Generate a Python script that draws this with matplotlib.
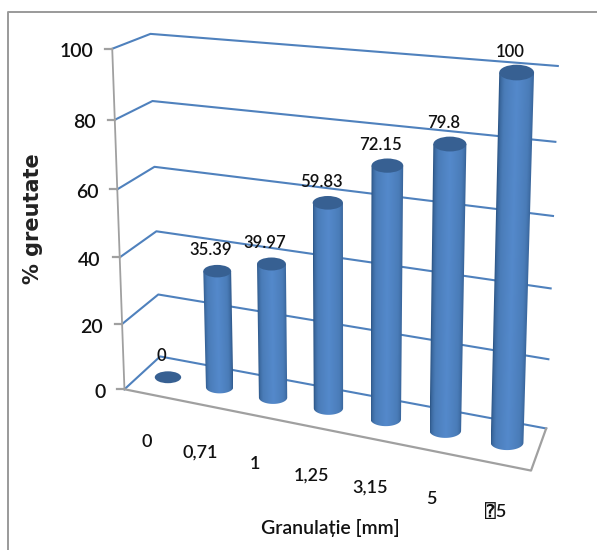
import matplotlib
matplotlib.use("Agg")
import matplotlib.pyplot as plt
import numpy as np
from matplotlib.colors import LinearSegmentedColormap
from matplotlib.patches import Ellipse, Polygon

categories = ["0", "0,71", "1", "1,25", "3,15", "5", "\u23705"]
values = [0, 35.39, 39.97, 59.83, 72.15, 79.8, 100]
value_labels = ["0", "35.39", "39.97", "59.83", "72.15", "79.8", "100"]
y_ticks = [0, 20, 40, 60, 80, 100]

FONT = ["Lato", "DejaVu Sans", "DejaVu Sans Mono"]
GRID = "#4f81bd"
AXIS = "#a0a0a0"
CAP = "#376092"
bar_cmap = LinearSegmentedColormap.from_list("bar", ["#2b5484", "#4a7cb8", "#5489cb", "#4a7cb8", "#2d5688"])

# chart box corners as seen in the picture: (along, depth, height) -> pixel
anchors = [
    (0, 0, 0, 124, 389), (0, 1, 0, 161, 357), (1, 1, 0, 546, 428), (1, 0, 0, 531, 471),
    (0, 0, 100, 113, 49), (0, 1, 100, 150, 34), (1, 1, 100, 558, 66),
    (0, 0, 60, 117, 189), (0, 1, 60, 154, 166.5), (1, 1, 60, 553, 216),
]
rows = []
for u, d, v, px, py in anchors:
    rows.append([u, d, v, 1, 0, 0, 0, 0, -px * u, -px * d, -px * v, -px])
    rows.append([0, 0, 0, 0, u, d, v, 1, -py * u, -py * d, -py * v, -py])
cam = np.linalg.svd(np.array(rows, dtype=float))[2][-1].reshape(3, 4)


def proj(u, d, v):
    p = cam @ np.array([u, d, v, 1.0])
    return p[0] / p[2], p[1] / p[2]


fig = plt.figure(figsize=(5.97, 5.5), dpi=100)
ax = fig.add_axes([0, 0, 1, 1])
ax.axis("off")

# outer frame, only top and left are inside the picture
ax.plot([8, 8, 597], [550, 12, 12], color="#9a9a9a", lw=1.4)

# walls and floor
for v in y_ticks:
    pts = [proj(0, 0, v), proj(0, 1, v), proj(1, 1, v)]
    ax.plot(*zip(*pts), color=GRID, lw=1.5, zorder=1)
    x0, y0 = pts[0]
    ax.plot([x0 - 7, x0], [y0, y0], color=AXIS, lw=1.6, zorder=2)
    ax.text(x0 - 19, y0 + 3, str(v), ha="right", va="center", fontsize=14, family=FONT,
            fontweight="semibold", color="#111111")
ax.plot(*zip(proj(0, 0, 0), proj(0, 0, 100)), color=AXIS, lw=1.3, zorder=2)
ax.plot(*zip(proj(0, 0, 0), proj(1, 0, 0), proj(1, 1, 0)), color=AXIS, lw=1.6, zorder=2)

# cylinders
n = len(categories)
ratio = 0.45
for i, val in enumerate(values):
    u = (i + 0.5) / n
    bx, by = proj(u, 0.5, 0)
    tx, ty = proj(u, 0.5, val)
    wb = (proj(u + 0.5 / n, 0.5, 0)[0] - proj(u - 0.5 / n, 0.5, 0)[0]) * 0.26
    wt = (proj(u + 0.5 / n, 0.5, val)[0] - proj(u - 0.5 / n, 0.5, val)[0]) * 0.26
    if val > 0:
        # shade worked out per row so the slanted sides stay straight
        left = min(bx - wb, tx - wt)
        right = max(bx + wb, tx + wt)
        top = ty - 2
        bottom = by + wb * ratio + 2
        gx = np.linspace(left, right, 120)
        gy = np.linspace(top, bottom, 300)
        frac = (gy[:, None] - ty) / (by - ty)
        cx = tx + (bx - tx) * frac
        w = wt + (wb - wt) * frac
        s = np.clip((gx[None, :] - cx) / w, -1, 1)
        shade = 1 - np.arccos(s) / np.pi
        im = ax.imshow(bar_cmap(shade), extent=(left, right, bottom, top), origin="upper",
                       aspect="auto", interpolation="bilinear", zorder=3)
        t = np.linspace(0, np.pi, 41)
        outline = np.concatenate([
            np.column_stack([bx + wb * np.cos(t), by + wb * ratio * np.sin(t)]),
            [[tx - wt, ty], [tx + wt, ty]],
        ])
        clip = Polygon(outline, transform=ax.transData)
        im.set_clip_path(clip)
    ax.add_patch(Ellipse((tx, ty), 2 * wt, 2 * wt * ratio, fc=CAP, ec="none", zorder=4))
    ax.text(tx - 6.5, ty - 21, value_labels[i], ha="center", va="center", fontsize=12,
            family=FONT, fontweight="semibold", color="#111111", zorder=5)
    fx, fy = proj(u, 0, 0)
    ax.text(fx - 3, fy + 48, categories[i], ha="center", va="center", fontsize=13,
            family=FONT, fontweight="semibold", color="#111111", zorder=5)

ax.text(33, 219, "% greutate", rotation=90, ha="center", va="center", fontsize=15,
        fontweight="bold", family="DejaVu Sans", color="#222222")
ax.text(330, 528, "Granula\u021bie [mm]", ha="center", va="center", fontsize=14,
        family=FONT, fontweight="semibold", color="#111111")

ax.set_xlim(0, 597)
ax.set_ylim(550, 0)
fig.savefig("out.png", dpi=100)
